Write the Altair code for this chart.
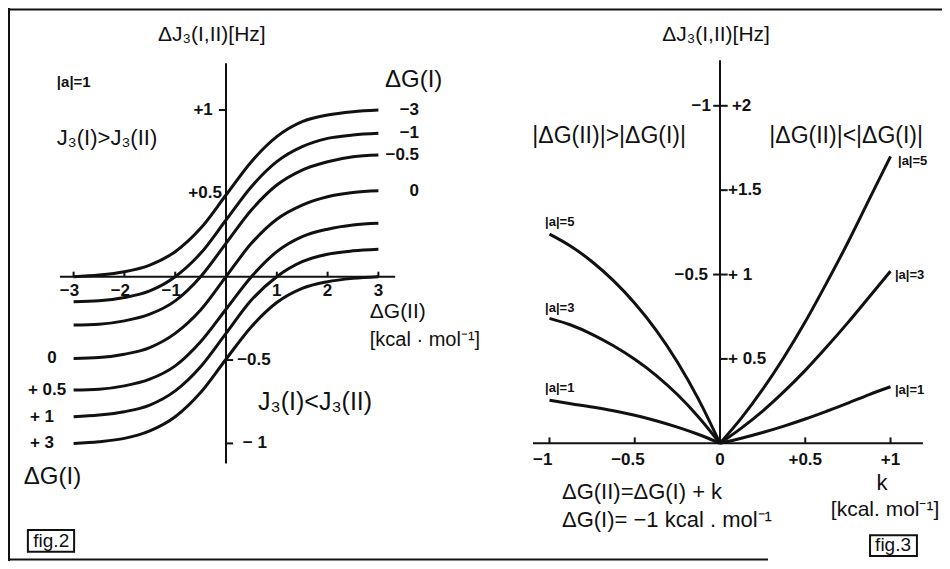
import altair as alt
import pandas as pd

W, H = 934, 553
FONT = "Liberation Sans"
INK = "#111111"

# ---------------- fig.2 : values ----------------
# x = ΔG(II) [kcal/mol], y = ΔJ3(I,II) [Hz], one curve per ΔG(I)
dg2 = [-3, -2.5, -2, -1.5, -1, -0.5, 0, 0.5, 1, 1.5, 2, 2.5, 3]
dj_dgI_m3 = [0.0, 0.01, 0.03, 0.07, 0.15, 0.29, 0.49, 0.69, 0.84, 0.93, 0.97, 0.99, 1.0]
dj_dgI_m1 = [-0.15, -0.145, -0.125, -0.085, 0.0, 0.14, 0.34, 0.54, 0.69, 0.78, 0.83, 0.85, 0.86]
dj_dgI_m05 = [-0.29, -0.285, -0.265, -0.225, -0.145, 0.0, 0.2, 0.40, 0.55, 0.64, 0.69, 0.72, 0.73]
dj_dgI_0 = [-0.49, -0.485, -0.465, -0.425, -0.34, -0.2, 0.0, 0.2, 0.345, 0.43, 0.48, 0.505, 0.515]
dj_dgI_p05 = [-0.68, -0.675, -0.655, -0.615, -0.535, -0.39, -0.195, 0.0, 0.15, 0.24, 0.285, 0.31, 0.32]
dj_dgI_p1 = [-0.84, -0.83, -0.81, -0.77, -0.685, -0.54, -0.34, -0.14, 0.0, 0.09, 0.135, 0.155, 0.165]
dj_dgI_p3 = [-1.0, -0.99, -0.97, -0.925, -0.84, -0.695, -0.495, -0.3, -0.155, -0.07, -0.03, -0.01, 0.0]

dgI_right_labels = ["−3", "−1", "−0.5", "0"]
dgI_left_labels = ["0", "+ 0.5", "+ 1", "+ 3"]
fig2_xticks = [-3, -2, -1, 1, 2, 3]
fig2_xtick_labels = ["−3", "−2", "−1", "1", "2", "3"]
fig2_yticks = [1, 0.5, -0.5, -1]
fig2_ytick_labels = ["+1", "+0.5", "−0.5", "− 1"]

# ---------------- fig.3 : values ----------------
# x = k [kcal/mol], y = ΔJ3(I,II) [Hz] (right-hand scale)
k_pos = [0, 0.125, 0.25, 0.375, 0.5, 0.625, 0.75, 0.875, 1.0]
a1_pos = [0, 0.030, 0.064, 0.102, 0.144, 0.190, 0.238, 0.289, 0.335]
a3_pos = [0, 0.090, 0.191, 0.306, 0.432, 0.570, 0.715, 0.867, 1.02]
a5_pos = [0, 0.149, 0.319, 0.510, 0.720, 0.950, 1.190, 1.445, 1.70]
k_neg = [0, -0.125, -0.25, -0.375, -0.5, -0.625, -0.75, -0.875, -1.0]
a1_neg = [0, 0.052, 0.096, 0.134, 0.166, 0.193, 0.215, 0.234, 0.255]
a3_neg = [0, 0.155, 0.289, 0.403, 0.498, 0.578, 0.646, 0.701, 0.74]
a5_neg = [0, 0.259, 0.482, 0.671, 0.830, 0.964, 1.076, 1.168, 1.24]

fig3_xticks = [-1, -0.5, 0.5, 1]
fig3_xtick_vals = [-1, -0.5, 0, 0.5, 1]
fig3_xtick_labels = ["−1", "−0.5", "0", "+0.5", "+1"]
fig3_yticks = [2, 1.5, 1, 0.5]
fig3_ytick_labels = ["+2", "+1.5", "+ 1", "+ 0.5"]
fig3_left_yticks = [2, 1]
fig3_left_ytick_labels = ["−1", "−0.5"]

# ---------------- scales (each panel has its own) ----------------
LX = alt.Scale(domain=[-218 / 50.8, (W - 218) / 50.8], nice=False, zero=False)
LY = alt.Scale(domain=[(268.7 - H) / 166.7, 268.7 / 166.7], nice=False, zero=False)
RX = alt.Scale(domain=[-712 / 170.5, (W - 712) / 170.5], nice=False, zero=False)
RY = alt.Scale(domain=[(435.3 - H) / 168.75, 435.3 / 168.75], nice=False, zero=False)


def enc_xy(xs, ys):
    return dict(x=alt.X("x:Q", scale=xs, axis=None), y=alt.Y("y:Q", scale=ys, axis=None))


def curves(df, xs, ys):
    return alt.Chart(df).mark_line(color=INK, strokeWidth=3, interpolate="monotone").encode(
        detail="c:N", **enc_xy(xs, ys))


def hsegs(rows, xs, ys, sw=2):
    df = pd.DataFrame(rows, columns=["x", "x2", "y"])
    return alt.Chart(df).mark_rule(color=INK, strokeWidth=sw).encode(x2="x2:Q", **enc_xy(xs, ys))


def vsegs(rows, xs, ys, sw=2):
    df = pd.DataFrame(rows, columns=["x", "y", "y2"])
    return alt.Chart(df).mark_rule(color=INK, strokeWidth=sw).encode(y2="y2:Q", **enc_xy(xs, ys))


def texts(rows, xs, ys, align, weight="normal"):
    df = pd.DataFrame(rows, columns=["t", "x", "y", "s"])
    return alt.Chart(df).mark_text(align=align, baseline="middle", font=FONT,
                                   fontWeight=weight, color=INK).encode(
        text="t:N", size=alt.Size("s:Q", scale=None), **enc_xy(xs, ys))


def box(rows, xs, ys):
    df = pd.DataFrame(rows, columns=["x", "x2", "y", "y2"])
    return alt.Chart(df).mark_rect(fill=None, stroke=INK, strokeWidth=2).encode(
        x2="x2:Q", y2="y2:Q", **enc_xy(xs, ys))


# ---------------- fig.2 layers ----------------
fig2_series = {"-3": dj_dgI_m3, "-1": dj_dgI_m1, "-0.5": dj_dgI_m05, "0": dj_dgI_0,
               "+0.5": dj_dgI_p05, "+1": dj_dgI_p1, "+3": dj_dgI_p3}
df2 = pd.DataFrame([dict(c=n, x=x, y=y) for n, ys in fig2_series.items() for x, y in zip(dg2, ys)])
right_ends = [dj_dgI_m3[-1], dj_dgI_m1[-1], dj_dgI_m05[-1], dj_dgI_0[-1]]
left_starts = [dj_dgI_0[0], dj_dgI_p05[0], dj_dgI_p1[0], dj_dgI_p3[0]]
left_col_x = [-3.52, -3.90, -3.86, -3.86]

left_layers = [
    hsegs([(-3.27, 3.33, 0), (-0.14, 0, 1), (0, 0.14, -0.5), (0, 0.14, -1)], LX, LY),
    vsegs([(0, -1.12, 1.28)] + [(t, 0, 0.03) for t in fig2_xticks], LX, LY),
    curves(df2, LX, LY),
    texts([("ΔJ₃(I,II)[Hz]", -0.28, 1.45, 21), ("fig.2", -3.44, -1.585, 19)], LX, LY, "center"),
    texts([("J₃(I)>J₃(II)", -3.33, 0.83, 22), ("ΔG(I)", 3.13, 1.18, 24),
           ("ΔG(II)", 2.83, -0.21, 21), ("[kcal · mol⁻¹]", 2.83, -0.38, 20),
           ("ΔG(I)", -3.98, -1.20, 24), ("J₃(I)<J₃(II)", 0.63, -0.75, 25)], LX, LY, "left"),
    texts([("|a|=1", -3.33, 1.17, 15)]
          + [(t, 0.22 if v == -0.5 else 0.33, v, 17) for t, v in zip(fig2_ytick_labels[2:], fig2_yticks[2:])]
          + [(t, x, y, 17) for t, x, y in zip(dgI_left_labels, left_col_x, left_starts)],
          LX, LY, "left", "bold"),
    texts([(t, 3.80, y, 17) for t, y in zip(dgI_right_labels, right_ends)]
          + [(fig2_ytick_labels[0], -0.26, fig2_yticks[0], 17), (fig2_ytick_labels[1], -0.08, fig2_yticks[1], 17)],
          LX, LY, "right", "bold"),
    texts([(t, (v - 0.08 if v < 0 else v), -0.085, 17) for t, v in zip(fig2_xtick_labels, fig2_xticks)],
          LX, LY, "center", "bold"),
    box([(-3.90, -2.99, -1.52, -1.65)], LX, LY),
]

# ---------------- fig.3 layers ----------------
fig3_series = {("a5", "+"): (k_pos, a5_pos), ("a3", "+"): (k_pos, a3_pos), ("a1", "+"): (k_pos, a1_pos),
               ("a5", "-"): (k_neg, a5_neg), ("a3", "-"): (k_neg, a3_neg), ("a1", "-"): (k_neg, a1_neg)}
df3 = pd.DataFrame([dict(c=a + s, x=x, y=y) for (a, s), (ks, ys) in fig3_series.items() for x, y in zip(ks, ys)])

right_layers = [
    hsegs([(-1.097, 1.19, 0), (-0.04, 0.045, 2), (0, 0.045, 1.5), (-0.04, 0.045, 1), (0, 0.045, 0.5)], RX, RY),
    vsegs([(0, 0, 2.27)] + [(t, 0, 0.035) for t in fig3_xticks], RX, RY),
    curves(df3, RX, RY),
    texts([("ΔJ₃(I,II)[Hz]", -0.023, 2.42, 21), ("|ΔG(II)|>|ΔG(I)|", -0.65, 1.82, 23),
           ("|ΔG(II)|<|ΔG(I)|", 0.74, 1.82, 23), ("k", 0.95, -0.235, 22),
           ("[kcal. mol⁻¹]", 0.968, -0.395, 21), ("fig.3", 1.015, -0.603, 19)], RX, RY, "center"),
    texts([("ΔG(II)=ΔG(I) + k", -0.927, -0.29, 22), ("ΔG(I)= −1 kcal . mol⁻¹", -0.927, -0.456, 22)],
          RX, RY, "left"),
    texts([(t, 0.07 if v == 2 else 0.047, v, 17) for t, v in zip(fig3_ytick_labels, fig3_yticks)]
          + [("|a|=5", -1.026, 1.31, 13), ("|a|=3", -1.026, 0.80, 13), ("|a|=1", -1.026, 0.33, 13),
             ("|a|=5", 1.044, 1.67, 13), ("|a|=3", 1.026, 1.0, 13), ("|a|=1", 1.026, 0.316, 13)],
          RX, RY, "left", "bold"),
    texts([(t, -0.053 if v == 2 else -0.07, v, 17) for t, v in zip(fig3_left_ytick_labels, fig3_left_yticks)],
          RX, RY, "right", "bold"),
    texts([(t, (v - 0.04 if v < 0 else v), -0.1, 17) for t, v in zip(fig3_xtick_labels, fig3_xtick_vals)],
          RX, RY, "center", "bold"),
    box([(0.88, 1.155, -0.545, -0.668)], RX, RY),
]

# ---------------- outer frame (decoration) ----------------
fdf = pd.DataFrame({"d": [0]})
frame = alt.layer(
    alt.Chart(fdf).mark_rule(color=INK, strokeWidth=2).encode(x=alt.value(0), x2=alt.value(W), y=alt.value(1.5)),
    alt.Chart(fdf).mark_rule(color=INK, strokeWidth=2).encode(x=alt.value(1), y=alt.value(0), y2=alt.value(H)),
    alt.Chart(fdf).mark_rule(color=INK, strokeWidth=2).encode(x=alt.value(0), x2=alt.value(760), y=alt.value(H - 1.5)),
)

chart = (
    alt.layer(alt.layer(*left_layers), alt.layer(*right_layers), frame)
    .resolve_scale(x="independent", y="independent")
    .properties(width=W, height=H, autosize=alt.AutoSizeParams(type="none"), padding=0, background="white")
    .configure_view(stroke=None)
)

chart.save("out.html", embed_options={"renderer": "svg", "actions": False})
